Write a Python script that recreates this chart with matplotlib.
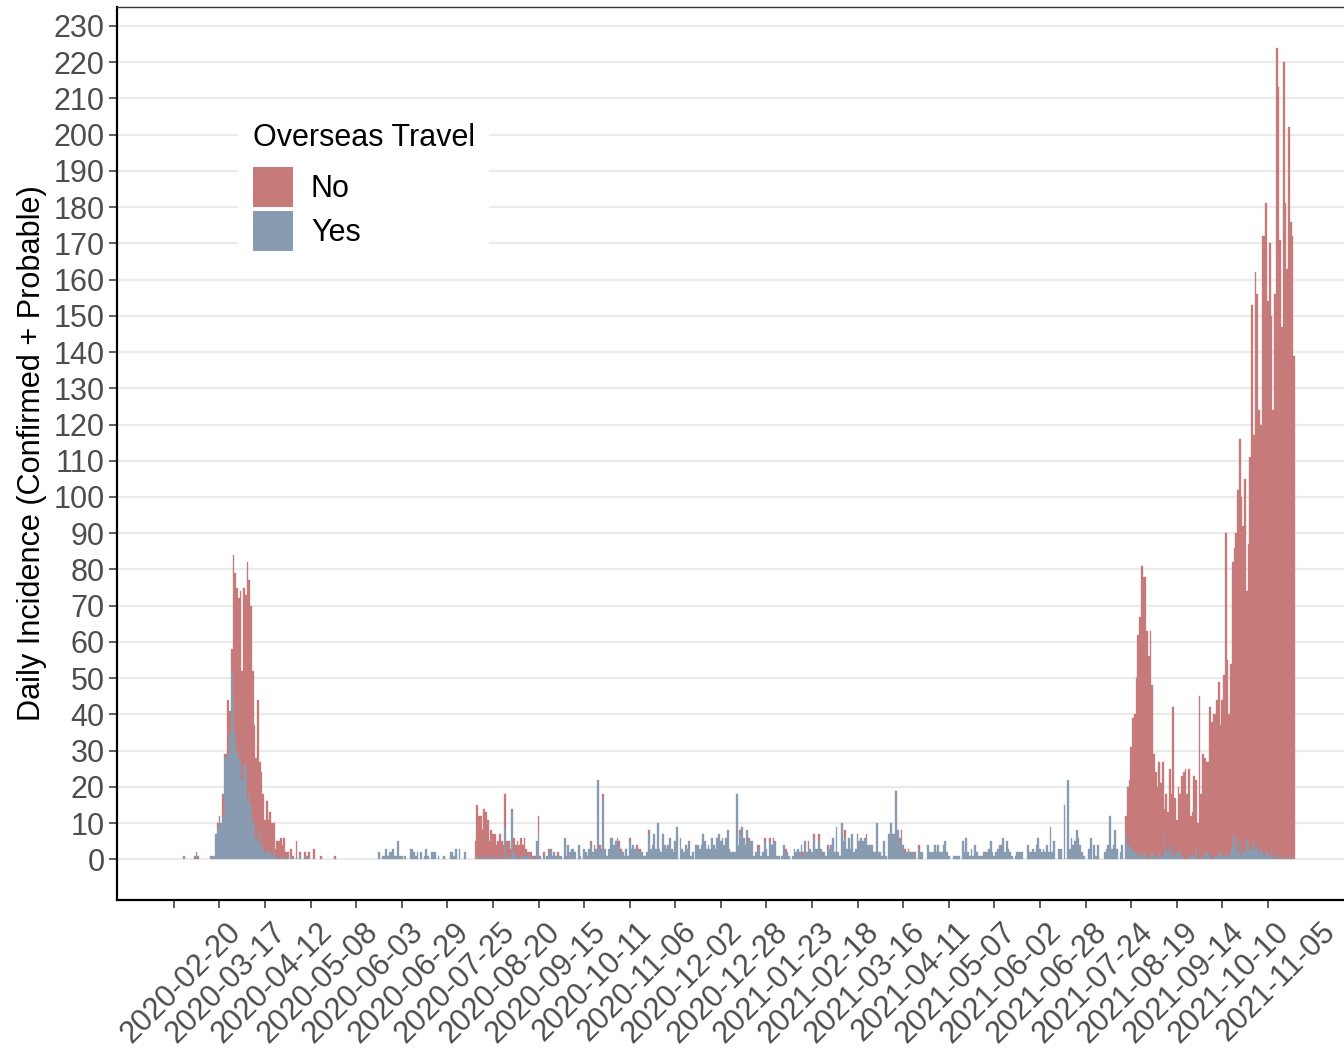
import numpy as np
import pandas as pd
import matplotlib
matplotlib.use("Agg")
import matplotlib.pyplot as plt
import matplotlib.dates as mdates
from matplotlib.patches import Patch
from matplotlib.transforms import ScaledTranslation, blended_transform_factory

# Daily counts starting on this date
start_date = "2020-02-20"

# Cases with overseas travel (bottom of the stack)
yes_travel = [
    0, 0, 0, 0, 0, 0, 1, 0, 0, 0,
    0, 0, 1, 2, 0, 0, 0, 0, 0, 0,
    0, 1, 1, 1, 7, 9, 11, 10, 12, 28,
    29, 29, 35, 52, 45, 35, 30, 28, 32, 22,
    26, 26, 16, 18, 15, 10, 12, 6, 5, 8,
    3, 4, 2, 2, 3, 2, 1, 2, 1, 1,
    0, 1, 0, 1, 0, 1, 0, 0, 1, 0,
    0, 0, 1, 0, 0, 1, 0, 1, 0, 0,
    0, 0, 0, 0, 0, 0, 0, 0, 0, 0,
    0, 0, 0, 0, 0, 0, 0, 0, 0, 0,
    0, 0, 0, 0, 0, 0, 0, 0, 0, 0,
    0, 0, 0, 0, 0, 0, 0, 2, 0, 1,
    1, 3, 1, 2, 2, 3, 1, 1, 5, 1,
    1, 0, 1, 0, 0, 3, 3, 2, 1, 2,
    0, 2, 0, 1, 3, 1, 0, 2, 2, 2,
    0, 1, 0, 0, 1, 0, 0, 0, 2, 2,
    1, 3, 0, 3, 0, 0, 2, 0, 0, 0,
    0, 0, 1, 1, 0, 1, 0, 1, 0, 1,
    0, 1, 0, 1, 0, 1, 0, 1, 0, 9,
    1, 0, 1, 13, 2, 1, 1, 0, 1, 1,
    2, 1, 1, 1, 0, 1, 0, 5, 7, 1,
    0, 1, 0, 1, 2, 3, 1, 2, 1, 1,
    1, 1, 0, 6, 0, 4, 2, 3, 3, 2,
    0, 4, 1, 0, 3, 2, 1, 3, 4, 2,
    3, 3, 22, 3, 3, 17, 3, 1, 3, 6,
    6, 4, 5, 6, 4, 2, 2, 1, 3, 1,
    5, 3, 4, 3, 3, 3, 2, 2, 1, 1,
    2, 7, 3, 4, 7, 3, 10, 3, 2, 7,
    4, 3, 4, 6, 3, 2, 5, 9, 0, 6,
    3, 2, 4, 3, 5, 1, 2, 0, 4, 4,
    3, 4, 7, 5, 3, 4, 3, 6, 4, 3,
    6, 7, 5, 6, 4, 6, 8, 3, 2, 2,
    2, 18, 4, 7, 9, 6, 4, 8, 5, 5,
    5, 1, 2, 3, 4, 1, 2, 5, 3, 1,
    5, 4, 5, 5, 1, 1, 0, 1, 4, 2,
    2, 1, 0, 1, 3, 2, 3, 2, 4, 1,
    5, 2, 3, 3, 2, 6, 3, 3, 5, 3,
    1, 2, 1, 3, 3, 4, 6, 2, 9, 2,
    1, 10, 5, 6, 3, 6, 3, 7, 2, 3,
    6, 5, 6, 5, 6, 6, 4, 4, 4, 2,
    2, 10, 2, 2, 1, 5, 1, 0, 7, 10,
    7, 7, 18, 8, 5, 7, 4, 2, 2, 2,
    2, 2, 2, 1, 0, 3, 2, 2, 0, 0,
    4, 2, 2, 2, 4, 2, 4, 2, 2, 4,
    5, 2, 1, 0, 0, 1, 1, 1, 1, 0,
    5, 2, 6, 2, 1, 3, 1, 4, 2, 1,
    1, 1, 2, 2, 2, 3, 5, 2, 1, 2,
    3, 4, 3, 6, 2, 5, 3, 2, 1, 0,
    1, 2, 2, 2, 2, 0, 0, 4, 2, 2,
    3, 2, 4, 6, 3, 2, 3, 2, 4, 2,
    9, 2, 5, 0, 0, 3, 3, 0, 15, 0,
    22, 3, 6, 4, 5, 8, 6, 4, 2, 1,
    0, 0, 3, 6, 0, 4, 1, 4, 0, 0,
    0, 2, 3, 4, 12, 3, 4, 8, 3, 0,
    2, 4, 0, 7, 4, 4, 3, 3, 2, 2,
    1, 2, 1, 1, 2, 1, 0, 1, 2, 1,
    1, 0, 2, 1, 1, 8, 3, 2, 4, 1,
    3, 1, 2, 4, 2, 1, 0, 1, 0, 1,
    1, 2, 1, 3, 0, 2, 1, 0, 2, 2,
    2, 1, 0, 2, 1, 1, 2, 2, 1, 1,
    2, 1, 1, 3, 7, 4, 6, 2, 5, 1,
    3, 2, 6, 4, 3, 3, 5, 3, 4, 2,
    3, 2, 1, 2, 2, 1, 3, 1, 0, 2,
    0, 1, 0, 0, 1, 0, 1, 0, 1, 0,
]

# Cases without overseas travel (stacked on top)
no_travel = [
    0, 0, 0, 0, 0, 0, 0, 0, 0, 0,
    0, 0, 0, 0, 1, 0, 0, 0, 0, 0,
    0, 0, 0, 0, 0, 1, 1, 0, 6, 1,
    0, 15, 6, 6, 39, 44, 45, 44, 42, 30,
    49, 47, 66, 59, 55, 42, 25, 22, 39, 19,
    21, 14, 9, 14, 8, 11, 9, 8, 2, 4,
    5, 5, 4, 5, 2, 1, 0, 3, 0, 0,
    5, 0, 1, 0, 0, 1, 1, 1, 0, 0,
    3, 0, 0, 0, 1, 0, 0, 0, 0, 0,
    0, 0, 1, 0, 0, 0, 0, 0, 0, 0,
    0, 0, 0, 0, 0, 0, 0, 0, 0, 0,
    0, 0, 0, 0, 0, 0, 0, 0, 0, 0,
    0, 0, 0, 0, 0, 0, 0, 0, 0, 0,
    0, 0, 0, 0, 0, 0, 0, 0, 0, 0,
    0, 0, 0, 0, 0, 0, 0, 0, 0, 0,
    0, 0, 0, 0, 0, 0, 0, 0, 0, 0,
    0, 0, 0, 0, 0, 0, 0, 0, 0, 0,
    0, 0, 4, 14, 12, 11, 8, 13, 13, 10,
    5, 7, 7, 6, 4, 4, 7, 4, 4, 9,
    4, 5, 2, 1, 4, 3, 4, 4, 5, 3,
    4, 2, 1, 1, 2, 0, 1, 0, 5, 0,
    0, 1, 0, 0, 1, 0, 0, 0, 0, 1,
    0, 0, 0, 0, 1, 0, 0, 0, 0, 0,
    0, 0, 0, 0, 0, 0, 0, 0, 1, 0,
    1, 0, 0, 1, 0, 1, 0, 0, 0, 0,
    0, 0, 0, 0, 1, 1, 0, 0, 0, 0,
    1, 0, 0, 0, 1, 0, 1, 0, 0, 0,
    0, 1, 0, 0, 0, 0, 0, 0, 0, 0,
    0, 0, 0, 0, 0, 0, 0, 0, 0, 0,
    0, 0, 0, 0, 0, 0, 0, 0, 0, 0,
    0, 0, 0, 0, 0, 0, 0, 0, 0, 0,
    0, 0, 0, 0, 0, 0, 0, 0, 0, 0,
    0, 0, 0, 1, 0, 0, 0, 0, 1, 0,
    0, 0, 0, 1, 0, 0, 0, 1, 0, 0,
    1, 0, 1, 0, 0, 0, 0, 0, 0, 1,
    0, 0, 0, 0, 0, 0, 0, 0, 0, 1,
    0, 0, 2, 0, 0, 1, 0, 0, 2, 0,
    1, 0, 0, 1, 0, 0, 0, 0, 0, 0,
    0, 0, 0, 2, 0, 0, 0, 0, 0, 0,
    1, 0, 0, 0, 0, 1, 0, 0, 0, 0,
    0, 0, 0, 0, 0, 0, 0, 0, 0, 0,
    0, 0, 1, 0, 1, 1, 0, 1, 0, 1,
    0, 0, 0, 1, 0, 1, 0, 0, 0, 0,
    0, 0, 0, 0, 0, 0, 0, 0, 0, 0,
    0, 0, 0, 0, 0, 0, 0, 0, 0, 0,
    0, 0, 0, 0, 0, 0, 0, 0, 0, 0,
    0, 0, 0, 0, 0, 0, 0, 0, 0, 0,
    0, 0, 1, 0, 0, 0, 0, 0, 0, 0,
    0, 0, 0, 0, 0, 0, 0, 0, 0, 0,
    0, 0, 0, 0, 0, 0, 0, 0, 0, 0,
    0, 0, 0, 0, 0, 0, 0, 0, 0, 0,
    0, 0, 0, 0, 0, 0, 0, 0, 0, 0,
    0, 0, 0, 0, 0, 0, 0, 0, 0, 0,
    0, 0, 0, 0, 0, 0, 0, 0, 0, 0,
    0, 0, 0, 5, 16, 18, 28, 36, 38, 48,
    61, 65, 80, 77, 76, 62, 56, 62, 46, 28,
    23, 20, 25, 20, 26, 6, 15, 11, 21, 17,
    39, 16, 9, 16, 16, 22, 24, 24, 18, 24,
    11, 11, 22, 19, 10, 43, 17, 29, 26, 25,
    25, 41, 38, 38, 39, 43, 47, 35, 43, 50,
    88, 54, 39, 51, 75, 82, 84, 100, 111, 99,
    89, 103, 68, 83, 108, 150, 112, 159, 152, 122,
    117, 170, 171, 179, 152, 169, 147, 123, 156, 222,
    213, 170, 147, 220, 180, 163, 201, 176, 171, 139,
]

legend_title = "Overseas Travel"
series_labels = ["No", "Yes"]
y_label = "Daily Incidence (Confirmed + Probable)"
y_ticks = list(range(0, 231, 10))
tick_start = "2020-02-20"
tick_end = "2021-11-05"
tick_step = "26D"

red = "#C67A7A"
blue = "#899BB0"
label_grey = "#4D4D4D"
fs = 22

plt.rcParams["font.family"] = ["Liberation Sans", "DejaVu Sans"]

dates = pd.date_range(start_date, periods=len(yes_travel), freq="D")
xnum = mdates.date2num(dates)
yes = np.array(yes_travel)
no = np.array(no_travel)

W, H = 1344, 1048
fig = plt.figure(figsize=(W / 100, H / 100), dpi=100)
ax = fig.add_axes([117 / W, 1 - 900 / H, (1351 - 117) / W, (900 - 7) / H])

# only days with cases get a bar, so empty days leave no outline on the baseline
has_yes = yes > 0
has_no = no > 0
ax.bar(xnum[has_yes], yes[has_yes], width=1.0, color=blue, edgecolor=blue,
       linewidth=0.25, zorder=2)
ax.bar(xnum[has_no], no[has_no], bottom=yes[has_no], width=1.0, color=red,
       edgecolor=red, linewidth=0.25, zorder=2)

x0 = xnum[0]
ax.set_xlim(x0 - 32.4, x0 + 671.4)
ax.set_ylim(-11.2, 235.2)

ax.set_yticks(y_ticks)
ax.yaxis.grid(True, color="#EBEBEB", linewidth=1.6, zorder=0)
ax.xaxis.grid(False)
ax.set_axisbelow(True)

for side in ["left", "bottom"]:
    ax.spines[side].set_color("black")
    ax.spines[side].set_linewidth(1.6)
ax.spines["top"].set_color("#333333")
ax.spines["top"].set_linewidth(1.0)
ax.spines["right"].set_visible(False)

ax.tick_params(axis="both", length=5.5, width=1.1, color="#333333",
               labelcolor=label_grey, labelsize=fs)
ax.tick_params(axis="y", pad=3.5)

tick_dates = pd.date_range(tick_start, tick_end, freq=tick_step)
tick_pos = mdates.date2num(tick_dates)
ax.set_xticks(tick_pos)
ax.set_xticklabels([])
trans = blended_transform_factory(ax.transData, ax.transAxes) + \
    ScaledTranslation(52 / 100, -17 / 100, fig.dpi_scale_trans)
for pos, d in zip(tick_pos, tick_dates):
    ax.text(pos, 0, d.strftime("%Y-%m-%d"), transform=trans, rotation=45,
            rotation_mode="anchor", ha="right", va="top",
            fontsize=fs, color=label_grey, clip_on=False)

ax.set_ylabel(y_label, fontsize=22.1, color="black")
ax.yaxis.set_label_coords(-0.0565, 0.5)

handles = [Patch(facecolor=red, edgecolor="none"),
           Patch(facecolor=blue, edgecolor="none")]
leg = ax.legend(handles, series_labels, title=legend_title,
                loc="upper left",
                bbox_to_anchor=((238 - 117) / 1234, (900 - 108) / 893),
                borderaxespad=0, frameon=True, fancybox=False,
                fontsize=fs, title_fontsize=fs,
                handlelength=1.325, handleheight=1.65, labelspacing=0.13,
                handletextpad=0.58, borderpad=0.48, alignment="left")
leg.get_frame().set_facecolor("white")
leg.get_frame().set_edgecolor("none")
leg.get_frame().set_alpha(1)
# extra room between the legend title and the keys
leg._legend_box.sep = 10

fig.savefig("out.png", dpi=100)
